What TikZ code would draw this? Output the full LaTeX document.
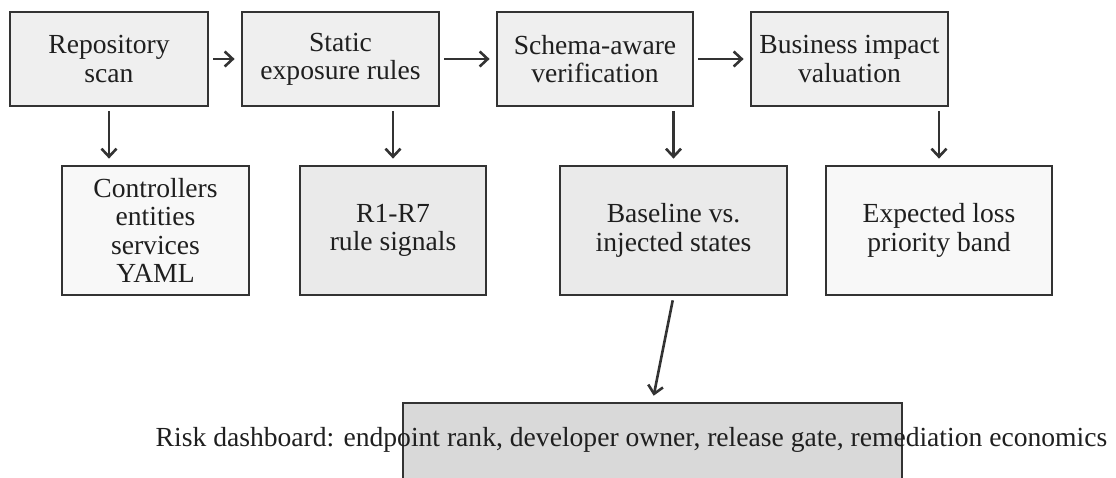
\documentclass[tikz,border=0pt]{standalone}
\usepackage{fontspec}
\setmainfont{Liberation Serif}
\usetikzlibrary{arrows.meta}

\definecolor{edge}{HTML}{333333}
\definecolor{stagefill}{HTML}{EFEFEF}
\definecolor{lightfill}{HTML}{F8F8F8}
\definecolor{midfill}{HTML}{EAEAEA}
\definecolor{dashfill}{HTML}{D9D9D9}
\newcommand{\labelfont}{\fontsize{27.6}{28.4}\selectfont}

\tikzset{
  box/.style={draw=edge, line width=2.8pt, inner sep=0pt, align=center,
    font=\labelfont, text=black!88},
  stage/.style={box, fill=stagefill, minimum width=197pt, minimum height=94pt},
  detail/.style={box, minimum height=129pt},
  flow/.style={draw=edge, line width=2.6pt,
    -{Straight Barb[length=8pt,width=15pt,line width=2.6pt]},
    shorten <=4pt, shorten >=6pt},
}

\begin{document}
\begin{tikzpicture}[x=1pt,y=-1pt]
  \useasboundingbox (0,0) rectangle (1116,477);

  % pipeline stages
  \node[stage, minimum width=198pt] (repo)   at (109,59)   {Repository\\scan};
  \node[stage]                      (static) at (340.5,59) {Static\\exposure rules};
  \node[stage, minimum width=196pt] (schema) at (595,59)   {Schema-aware\\verification};
  \node[stage]                      (biz)    at (849.5,59) {Business impact\\valuation};

  % stage outputs
  \node[detail, fill=lightfill, minimum width=187pt] (ctrl)  at (155.5,230.5) {Controllers\\entities\\services\\YAML};
  \node[detail, fill=midfill,   minimum width=186pt] (rules) at (393,230.5)   {R1-R7\\rule signals};
  \node[detail, fill=midfill,   minimum width=227pt] (base)  at (673.5,230.5) {Baseline vs.\\injected states};
  \node[detail, fill=lightfill, minimum width=226pt] (loss)  at (939,230.5)   {Expected loss\\priority band};

  % dashboard box and its caption
  \node[draw=edge, line width=2.8pt, fill=dashfill, minimum width=499pt,
        minimum height=78pt, inner sep=0pt] (dash) at (652.5,442) {};
  \node[font=\labelfont, text=black!88, inner sep=0pt]
        (dashtext) at (631.5,440)
        {Risk dashboard: endpoint rank, developer owner, release gate, remediation economics};

  % main flow
  \draw[flow] (repo.east)   -- (static.west);
  \draw[flow] (static.east) -- (schema.west);
  \draw[flow] (schema.east) -- (biz.west);

  % outputs
  \draw[flow] (repo.south) -- (repo.south |- ctrl.north);
  \draw[flow] (rules.north |- static.south) -- (rules.north);
  \draw[flow] (base.north |- schema.south) -- (base.north);
  \draw[flow] (loss.north |- biz.south) -- (loss.north);

  \draw[flow] (base.south) -- (dash.north);
\end{tikzpicture}
\end{document}
